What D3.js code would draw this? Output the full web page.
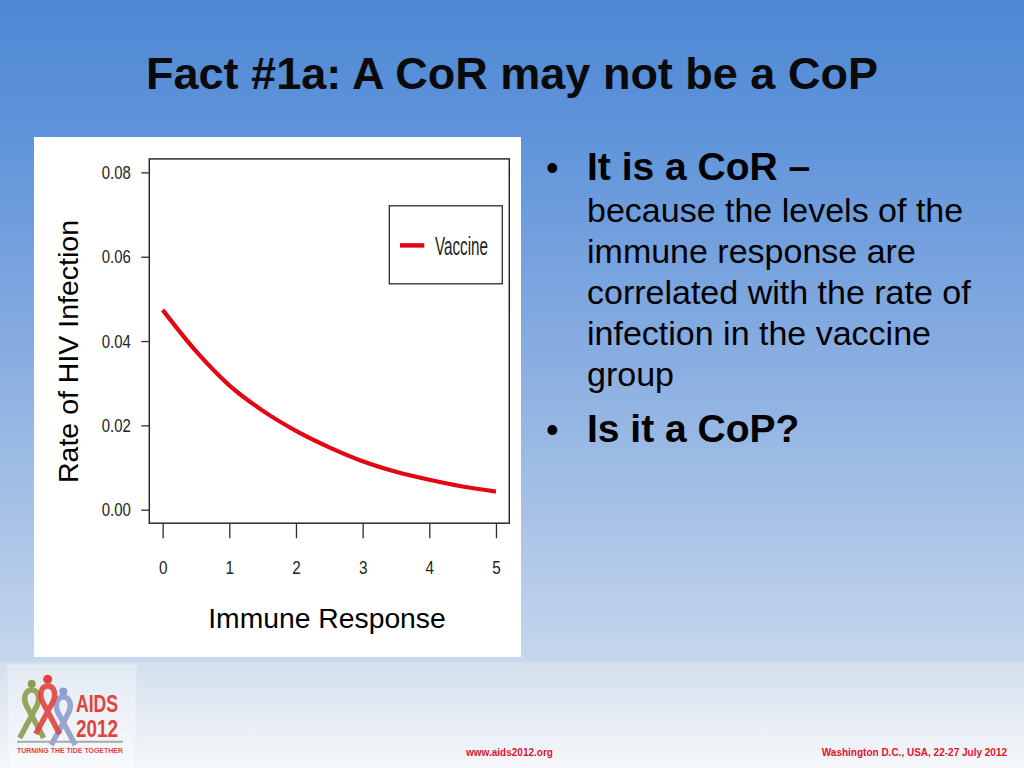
<!DOCTYPE html>
<html>
<head>
<meta charset="utf-8">
<script src="https://cdn.jsdelivr.net/npm/d3@7"></script>
<style>
  html, body { margin: 0; padding: 0; background: #fff; }
  svg { display: block; }
</style>
</head>
<body>
<script>
// ---- Data ----
const xValues = [0, 0.5, 1, 1.5, 2, 2.5, 3, 3.5, 4, 4.5, 5];
const vaccineRate = [0.0474, 0.0376, 0.0295, 0.0235, 0.0187, 0.0148, 0.0115, 0.0090, 0.0071, 0.0055, 0.0043];
const xTicks = [0, 1, 2, 3, 4, 5];
const yTicks = [0, 0.02, 0.04, 0.06, 0.08];
const seriesName = "Vaccine";
const titleText = "Fact #1a: A CoR may not be a CoP";
const xLabel = "Immune Response";
const yLabel = "Rate of HIV Infection";
const bullet1Head = "It is a CoR \u2013";
const bullet1Lines = ["because the levels of the", "immune response are", "correlated with the rate of", "infection in the vaccine", "group"];
const bullet2Head = "Is it a CoP?";
const footerLeft = "www.aids2012.org";
const footerRight = "Washington D.C., USA, 22-27 July 2012";

const W = 1024, H = 768;
const svg = d3.select("body").append("svg").attr("width", W).attr("height", H);
const defs = svg.append("defs");

// background gradient
const bg = defs.append("linearGradient").attr("id", "bg").attr("x1", 0).attr("y1", 0).attr("x2", 0).attr("y2", 1);
[[0, "#4f88d5"], [0.15, "#5c92d9"], [0.4, "#7fa7df"], [0.65, "#a4c0e6"], [0.85, "#c4d6ec"], [1, "#d6e2f0"]]
  .forEach(([o, c]) => bg.append("stop").attr("offset", o).attr("stop-color", c));
svg.append("rect").attr("width", W).attr("height", H).attr("fill", "url(#bg)");

const ft = defs.append("linearGradient").attr("id", "ft").attr("x1", 0).attr("y1", 0).attr("x2", 0).attr("y2", 1);
[[0, "#d3dfee"], [1, "#f6f8fb"]].forEach(([o, c]) => ft.append("stop").attr("offset", o).attr("stop-color", c));
svg.append("rect").attr("x", 0).attr("y", 662).attr("width", W).attr("height", H - 662).attr("fill", "url(#ft)");

const tf = "Liberation Sans, Arial, sans-serif";

// Title
svg.append("text").attr("x", 512).attr("y", 89).attr("text-anchor", "middle")
  .attr("font-family", tf).attr("font-weight", "bold")
  .attr("font-size", 45).attr("fill", "#0a0a0a").text(titleText);

// Chart panel
svg.append("rect").attr("x", 34).attr("y", 137).attr("width", 487).attr("height", 520).attr("fill", "#ffffff");

// Scales (R style 4% padding)
const x = d3.scaleLinear().domain([-0.2, 5.2]).range([149.3, 509.3]);
const y = d3.scaleLinear().domain([-0.0032, 0.0832]).range([523.2, 158.9]);

const axisColor = "#2b2b2b";

// Y axis
const gy = svg.append("g").attr("transform", `translate(${x(-0.2)},0)`)
  .call(d3.axisLeft(y).tickValues(yTicks).tickSize(8).tickPadding(10.6).tickFormat(d3.format(".2f")));
gy.select(".domain").remove();
gy.selectAll(".tick line").attr("stroke", axisColor).attr("stroke-width", 1.3);
gy.selectAll(".tick text").attr("font-family", tf)
  .attr("font-size", 19).attr("fill", "#222").attr("textLength", 29).attr("lengthAdjust", "spacingAndGlyphs");

// X axis
const gx = svg.append("g").attr("transform", `translate(0,${y(-0.0032)})`)
  .call(d3.axisBottom(x).tickValues(xTicks).tickSize(15).tickPadding(22.6).tickFormat(d3.format("d")));
gx.select(".domain").remove();
gx.selectAll(".tick line").attr("stroke", axisColor).attr("stroke-width", 1.3);
gx.selectAll(".tick text").attr("font-family", tf)
  .attr("font-size", 19).attr("fill", "#222").attr("textLength", 8.5).attr("lengthAdjust", "spacingAndGlyphs");

// Plot box
svg.append("rect").attr("x", x(-0.2)).attr("y", y(0.0832))
  .attr("width", x(5.2) - x(-0.2)).attr("height", y(-0.0032) - y(0.0832))
  .attr("fill", "none").attr("stroke", axisColor).attr("stroke-width", 1.5);

// Curve
const pts = xValues.map((v, i) => [v, vaccineRate[i]]);
svg.append("path").datum(pts)
  .attr("d", d3.line().x(d => x(d[0])).y(d => y(d[1])).curve(d3.curveMonotoneX))
  .attr("fill", "none").attr("stroke", "#e30613").attr("stroke-width", 4.2).attr("stroke-linecap", "butt");

// Legend
svg.append("rect").attr("x", 389.3).attr("y", 205.8).attr("width", 113).attr("height", 78)
  .attr("fill", "#fff").attr("stroke", axisColor).attr("stroke-width", 1.3);
svg.append("line").attr("x1", 400).attr("x2", 424.3).attr("y1", 245.4).attr("y2", 245.4)
  .attr("stroke", "#e30613").attr("stroke-width", 4.5);
svg.append("text").attr("x", 435).attr("y", 255).attr("font-family", tf)
  .attr("font-size", 25).attr("fill", "#222").attr("textLength", 53).attr("lengthAdjust", "spacingAndGlyphs")
  .text(seriesName);

// Axis titles
svg.append("text").attr("transform", "translate(78,351.5) rotate(-90)").attr("text-anchor", "middle")
  .attr("font-family", tf).attr("font-size", 28.5).attr("fill", "#000")
  .text(yLabel);
svg.append("text").attr("x", 327).attr("y", 628).attr("text-anchor", "middle")
  .attr("font-family", tf).attr("font-size", 28.3).attr("fill", "#000")
  .text(xLabel);

// Bullets
svg.append("text").attr("x", 546).attr("y", 180).attr("font-family", tf).attr("font-size", 36).attr("fill", "#000").text("\u2022");
svg.append("text").attr("x", 587).attr("y", 180).attr("font-family", tf).attr("font-weight", "bold").attr("font-size", 39).attr("fill", "#000").text(bullet1Head);
bullet1Lines.forEach((t, i) => {
  svg.append("text").attr("x", 587).attr("y", 222 + i * 41).attr("font-family", tf).attr("font-size", 34).attr("fill", "#000").text(t);
});
svg.append("text").attr("x", 546).attr("y", 442).attr("font-family", tf).attr("font-size", 36).attr("fill", "#000").text("\u2022");
svg.append("text").attr("x", 587).attr("y", 442).attr("font-family", tf).attr("font-weight", "bold").attr("font-size", 39).attr("fill", "#000").text(bullet2Head);

// Logo
const logo = svg.append("g");
logo.append("rect").attr("x", 8).attr("y", 665).attr("width", 128).attr("height", 103)
  .attr("fill", "rgba(255,255,255,0.35)").attr("stroke", "rgba(230,236,244,0.9)").attr("stroke-width", 1);
function ribbon(cx, top, color) {
  const p = `M${cx - 12},${top + 48} L${cx + 4},${top + 18} C${cx + 10},${top + 8} ${cx + 6},${top} ${cx},${top} C${cx - 6},${top} ${cx - 10},${top + 8} ${cx - 4},${top + 18} L${cx + 12},${top + 48}`;
  logo.append("path").attr("d", p).attr("fill", "none").attr("stroke", color).attr("stroke-width", 5.5).attr("stroke-opacity", 0.9);
}
ribbon(31.7, 690, "#8d9b4c");
ribbon(63.3, 697, "#8e9bcf");
ribbon(47.7, 686, "#e2423b");
logo.append("circle").attr("cx", 31.7).attr("cy", 684).attr("r", 4).attr("fill", "#8d9b4c");
logo.append("circle").attr("cx", 63.3).attr("cy", 691.5).attr("r", 4).attr("fill", "#8e9bcf");
logo.append("circle").attr("cx", 47.7).attr("cy", 679.3).attr("r", 4.5).attr("fill", "#e2423b");
logo.append("text").attr("x", 76).attr("y", 711.5).attr("font-family", tf).attr("font-weight", "bold")
  .attr("font-size", 24).attr("fill", "#e2423b").attr("textLength", 42).attr("lengthAdjust", "spacingAndGlyphs").text("AIDS");
logo.append("text").attr("x", 76).attr("y", 737).attr("font-family", tf).attr("font-weight", "bold")
  .attr("font-size", 24).attr("fill", "#e2423b").attr("textLength", 42).attr("lengthAdjust", "spacingAndGlyphs").text("2012");
logo.append("line").attr("x1", 17).attr("x2", 123).attr("y1", 741.7).attr("y2", 741.7).attr("stroke", "#a8a8a8").attr("stroke-width", 2);
logo.append("text").attr("x", 17).attr("y", 753).attr("font-family", tf).attr("font-weight", "bold")
  .attr("font-size", 7.5).attr("fill", "#e2423b").attr("textLength", 106).attr("lengthAdjust", "spacingAndGlyphs").text("TURNING THE TIDE TOGETHER");

// Footer
svg.append("text").attr("x", 466).attr("y", 756).attr("font-family", tf).attr("font-weight", "bold")
  .attr("font-size", 10).attr("fill", "#e3122b").text(footerLeft);
svg.append("text").attr("x", 1007).attr("y", 756).attr("text-anchor", "end").attr("font-family", tf).attr("font-weight", "bold")
  .attr("font-size", 10).attr("fill", "#e3122b").text(footerRight);
</script>
</body>
</html>
